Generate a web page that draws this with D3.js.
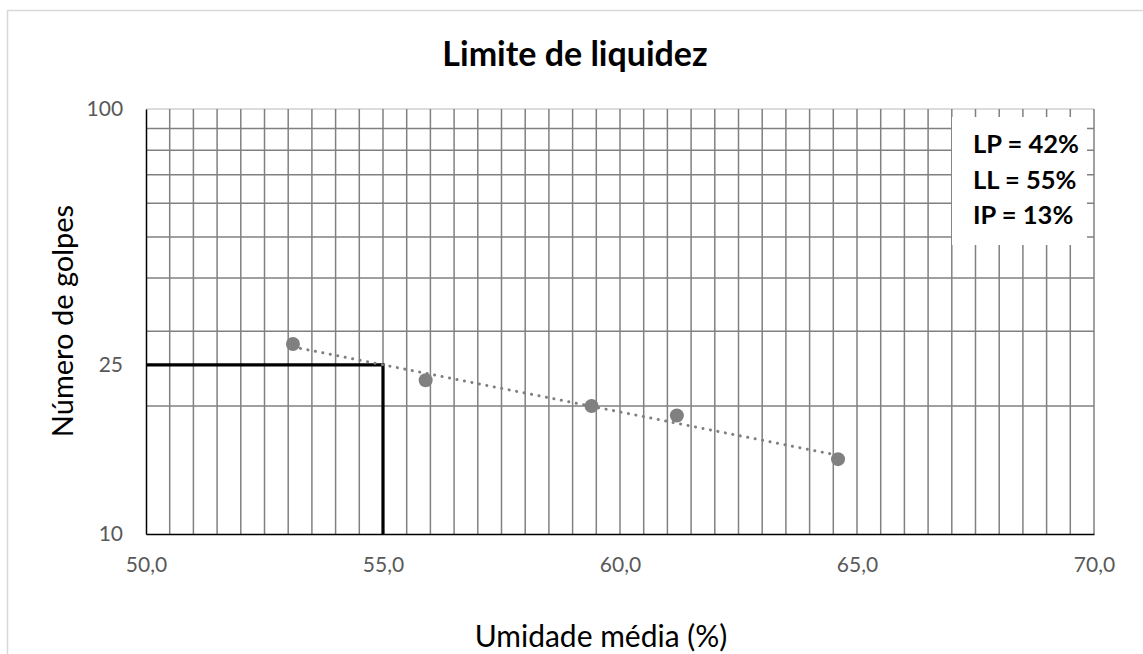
<!DOCTYPE html>
<html>
<head>
<meta charset="utf-8">
<script src="https://cdn.jsdelivr.net/npm/d3@7"></script>
<style>
  html, body { margin: 0; padding: 0; background: #ffffff; }
  svg { display: block; }
  text { font-family: Lato, "Open Sans", sans-serif; }
</style>
</head>
<body>
<svg id="chart" width="1143" height="654"></svg>
<script>
// ---- data ----
const umidade = [53.1, 55.9, 59.4, 61.2, 64.6];   // Umidade média (%)
const golpes  = [28, 23, 20, 19, 15];             // Número de golpes
const xTickValues = [50, 55, 60, 65, 70];
const yTickValues = [10, 25, 100];
const yGridValues = [20, 30, 40, 50, 60, 70, 80, 90];
const xDomain = [50, 70];
const yDomain = [10, 100];
const limiteLiquidez = 55;
const golpesRef = 25;
const infoLines = ["LP = 42%", "LL = 55%", "IP = 13%"];
const titleText = "Limite de liquidez";
const xTitle = "Umidade média (%)";
const yTitle = "Número de golpes";

// ---- layout ----
const W = 1143, H = 654;
const plot = { left: 146, right: 1094, top: 109, bottom: 534 };

const svg = d3.select("#chart");

// outer chart border
svg.append("rect")
  .attr("x", 7.5).attr("y", 10.5)
  .attr("width", W).attr("height", H)
  .attr("fill", "#fff").attr("stroke", "#d9d9d9").attr("stroke-width", 1.5);

const x = d3.scaleLinear().domain(xDomain).range([plot.left, plot.right]);
const y = d3.scaleLog().domain(yDomain).range([plot.bottom, plot.top]);

// title
svg.append("text")
  .attr("x", 575).attr("y", 66)
  .attr("text-anchor", "middle")
  .attr("font-size", 34).attr("font-weight", "bold").attr("fill", "#000")
  .text(titleText);

// plot top border (light)
svg.append("line")
  .attr("x1", plot.left).attr("x2", plot.right)
  .attr("y1", y(100)).attr("y2", y(100))
  .attr("stroke", "#d0d0d0").attr("stroke-width", 1.5);

// vertical gridlines every 0.5
const xGrid = d3.range(xDomain[0] + 0.5, xDomain[1] + 0.001, 0.5);
svg.append("g").selectAll("line").data(xGrid).join("line")
  .attr("x1", d => x(d)).attr("x2", d => x(d))
  .attr("y1", plot.top).attr("y2", plot.bottom)
  .attr("stroke", "#808080").attr("stroke-width", 1.5);

// horizontal gridlines (log)
svg.append("g").selectAll("line").data(yGridValues).join("line")
  .attr("x1", plot.left).attr("x2", plot.right)
  .attr("y1", d => y(d)).attr("y2", d => y(d))
  .attr("stroke", "#808080").attr("stroke-width", 1.5);

// axes
const xAxis = d3.axisBottom(x).tickValues(xTickValues).tickSize(0)
  .tickFormat(d => d3.format(".1f")(d).replace(".", ","));
const gx = svg.append("g").attr("transform", `translate(0,${plot.bottom})`).call(xAxis);
gx.select(".domain").attr("stroke", "#000").attr("stroke-width", 1.5);
gx.selectAll("text").attr("font-size", 21).attr("fill", "#595959")
  .attr("font-family", "Lato, sans-serif").attr("dy", "1.65em");

const yAxis = d3.axisLeft(y).tickValues(yTickValues).tickSize(0)
  .tickFormat(d3.format("d"));
const gy = svg.append("g").attr("transform", `translate(${plot.left},0)`).call(yAxis);
gy.select(".domain").attr("stroke", "#000").attr("stroke-width", 1.5);
gy.selectAll("text").attr("font-size", 21).attr("fill", "#595959")
  .attr("font-family", "Lato, sans-serif").attr("dx", "-0.95em");

// LL reference lines
svg.append("path")
  .attr("d", d3.line()([
    [x(xDomain[0]), y(golpesRef)],
    [x(limiteLiquidez), y(golpesRef)],
    [x(limiteLiquidez), y(yDomain[0])]
  ]))
  .attr("fill", "none").attr("stroke", "#000").attr("stroke-width", 3.2);

// trendline (exponential fit: linear regression of log10(golpes) on umidade)
const ly = golpes.map(v => Math.log10(v));
const mx = d3.mean(umidade), my = d3.mean(ly);
const slope = d3.sum(umidade.map((v, i) => (v - mx) * (ly[i] - my))) /
              d3.sum(umidade.map(v => (v - mx) * (v - mx)));
const icpt = my - slope * mx;
const xMin = d3.min(umidade), xMax = d3.max(umidade);
const trend = d3.range(0, 21).map(i => {
  const xv = xMin + (xMax - xMin) * i / 20;
  return [x(xv), y(Math.pow(10, icpt + slope * xv))];
});
svg.append("path")
  .attr("d", d3.line()(trend))
  .attr("fill", "none").attr("stroke", "#808080").attr("stroke-width", 3)
  .attr("stroke-linecap", "round").attr("stroke-dasharray", "0.1,7.5");

// points
svg.append("g").selectAll("circle").data(umidade).join("circle")
  .attr("cx", d => x(d)).attr("cy", (d, i) => y(golpes[i]))
  .attr("r", 7).attr("fill", "#808080");

// info box
svg.append("rect")
  .attr("x", 952).attr("y", 117).attr("width", 135).attr("height", 128)
  .attr("fill", "#fff");
svg.append("g").selectAll("text").data(infoLines).join("text")
  .attr("x", 973).attr("y", (d, i) => 153 + i * 35.5)
  .attr("font-size", 25.5).attr("font-weight", "bold").attr("fill", "#000")
  .text(d => d);

// axis titles
svg.append("text")
  .attr("x", 601).attr("y", 647)
  .attr("text-anchor", "middle").attr("font-size", 30).attr("fill", "#000")
  .text(xTitle);
svg.append("text")
  .attr("transform", "translate(73,321) rotate(-90)")
  .attr("text-anchor", "middle").attr("font-size", 29).attr("fill", "#000")
  .text(yTitle);
</script>
</body>
</html>
